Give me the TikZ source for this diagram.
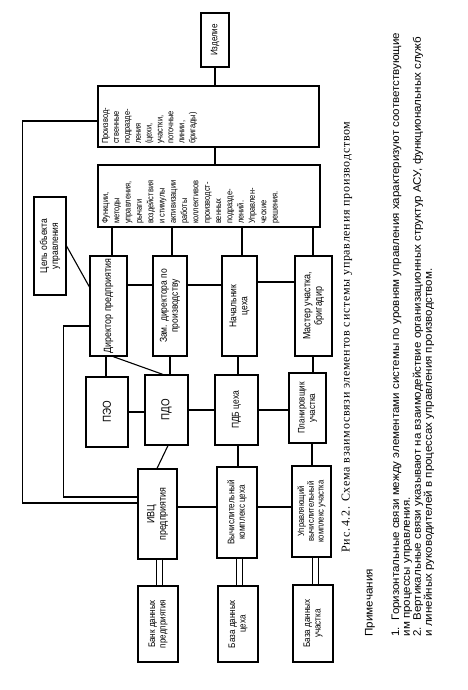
\documentclass[tikz,border=0pt]{standalone}
\usepackage{fontspec}
\setmainfont{Liberation Sans}
\newfontfamily\capfont{Liberation Serif}[LetterSpace=6]
\newfontfamily\boxfont{Liberation Sans}[FakeStretch=0.85]
\newfontfamily\notefont{Liberation Sans}[FakeStretch=1.06]
\begin{document}
\begin{tikzpicture}[x=1pt, y=1pt, rotate=90, transform shape, line width=1.1pt,
  blk/.style={draw, line width=1.1pt, align=center, inner sep=2pt, font=\boxfont\fontsize{9.5}{10.5}\selectfont},
  dbl/.style={double, double distance=5.6pt, line width=1.1pt}]
\useasboundingbox (0,0) rectangle (690,467);

% upper part
\node[blk, minimum width=54, minimum height=28] (izd) at (650,252) {Изделие};
\node[blk, minimum width=61, minimum height=221, inner sep=3pt, font=\boxfont\fontsize{8.8}{10.9}\selectfont] (prod) at (573.5,258.5)
  {\parbox[c][213pt][t]{55pt}{\raggedright Производ-\\ственные\\подразде-\\ления\\(цехи,\\участки,\\поточные\\линии,\\бригады)}};
\node[blk, minimum width=62, minimum height=222, inner sep=3pt, font=\boxfont\fontsize{8.8}{11.3}\selectfont] (func) at (494,258)
  {\parbox[c][214pt][t]{56pt}{\raggedright Функции,\\методы\\управления,\\рычаги\\воздействия\\и стимулы\\активизации\\работы\\коллективов\\производст-\\венных\\подразде-\\лений.\\Управлен-\\ческие\\решения.}};
\node[blk, minimum width=98, minimum height=32, font=\boxfont\fontsize{10}{11}\selectfont] (goal) at (444,417) {Цель объекта\\управления};

% managers
\node[blk, minimum width=100, minimum height=37, font=\boxfont\fontsize{10.5}{11.5}\selectfont] (dir) at (384,358.5) {Директор предприятия};
\node[blk, minimum width=100, minimum height=34, font=\boxfont\fontsize{10}{11}\selectfont] (dep) at (384,297) {Зам. директора по\\производству};
\node[blk, minimum width=100, minimum height=35, font=\boxfont\fontsize{10}{11}\selectfont] (head) at (384,227.5) {Начальник\\цеха};
\node[blk, minimum width=100, minimum height=37, font=\boxfont\fontsize{10.5}{11.5}\selectfont] (master) at (384,153.5) {Мастер участка,\\бригадир};

% services
\node[blk, minimum width=70, minimum height=42, font=\boxfont\fontsize{11.5}{12}\selectfont] (peo) at (278,360) {ПЭО};
\node[blk, minimum width=70, minimum height=43, font=\boxfont\fontsize{11.5}{12}\selectfont] (pdo) at (280,300.5) {ПДО};
\node[blk, minimum width=70, minimum height=43, font=\boxfont\fontsize{10}{11}\selectfont] (pdb) at (280,230.5) {ПДБ цеха};
\node[blk, minimum width=70, minimum height=37] (plan) at (282,159.5) {Планировщик\\участка};

% computing
\node[blk, minimum width=90, minimum height=39, font=\boxfont\fontsize{10.5}{11.5}\selectfont] (ivc) at (176,309.5) {ИВЦ\\предприятия};
\node[blk, minimum width=91, minimum height=40] (vk) at (177.5,230) {Вычислительный\\комплекс цеха};
\node[blk, minimum width=91, minimum height=39, font=\boxfont\fontsize{9}{9.8}\selectfont] (uvk) at (178.5,155.5) {Управляющий\\вычислительный\\комплекс участка};

% data
\node[blk, minimum width=76, minimum height=40] (bank) at (66,309) {Банк данных\\предприятия};
\node[blk, minimum width=76, minimum height=40] (bdc) at (66,229) {База данных\\цеха};
\node[blk, minimum width=77, minimum height=40] (bdu) at (66.5,154) {База данных\\участка};

% links
\draw (izd.west) -- (izd.west -| prod.east);
\draw (prod.west |- izd.west) -- (func.east |- izd.west);
\draw (dir.east |- 0,355) -- (func.west |- 0,355);
\draw (dep.east |- 0,295) -- (func.west |- 0,295);
\draw (head.east |- 0,225) -- (func.west |- 0,225);
\draw (master.east |- 0,154) -- (func.west |- 0,154);
\draw (goal.south) -- (dir.north -| 403,0);

\draw (dir.south -| 405,0) -- (dep.north -| 405,0);
\draw (dep.south -| 405,0) -- (head.north -| 405,0);
\draw (head.south -| 408,0) -- (master.north -| 408,0);

\draw (dir.west |- 0,361) -- (peo.east |- 0,361);
\draw (dir.west |- 0,354) -- (pdo.east |- 0,304);
\draw (dep.west |- 0,297) -- (pdo.east |- 0,297);
\draw (head.west |- 0,229) -- (pdb.east |- 0,229);
\draw (master.west |- 0,154) -- (plan.east |- 0,154);

\draw (peo.south -| 278,0) -- (pdo.north -| 278,0);
\draw (pdo.south) -- (pdb.north);
\draw (pdb.south) -- (pdb.south |- plan.north);

\draw (pdo.west |- 0,299) -- (ivc.east |- 0,310);
\draw (pdb.west |- 0,229) -- (vk.east |- 0,229);
\draw (plan.west |- 0,155) -- (uvk.east |- 0,155);
\draw (ivc.south -| 183,0) -- (vk.north -| 183,0);
\draw (vk.south -| 183,0) -- (uvk.north -| 183,0);

\draw[dbl] (ivc.west |- 0,307.5) -- (bank.east |- 0,307.5);
\draw[dbl] (vk.west |- 0,227.5) -- (bdc.east |- 0,227.5);
\draw[dbl] (uvk.west |- 0,151.5) -- (bdu.east |- 0,151.5);

\draw (prod.north -| 569,0) -- ++(0,75) -| (ivc.north -| 187,0);
\draw (dir.north -| 364,0) -- ++(0,26) -| (ivc.north -| 193,0);

% texts
\node[font=\capfont\fontsize{12}{13}\selectfont] (cap) at (353,120) {Рис.\,4.2. Схема взаимосвязи элементов системы управления производством};
\node[anchor=west, inner sep=0pt, font=\notefont\fontsize{11}{12}\selectfont] (hdr) at (53,97) {Примечания};
\node[anchor=north west, inner sep=0pt, align=left, font=\notefont\fontsize{10.9}{10.9}\selectfont] (notes) at (53,76)
  {1.\ \ Горизонтальные связи между элементами системы по уровням управления характеризуют соответствующие\\
   им процессы управления.\\
   2.\ \ Вертикальные связи указывают на взаимодействие организационных структур АСУ, функциональных служб\\
   и линейных руководителей в процессах управления производством.};
\end{tikzpicture}
\end{document}
